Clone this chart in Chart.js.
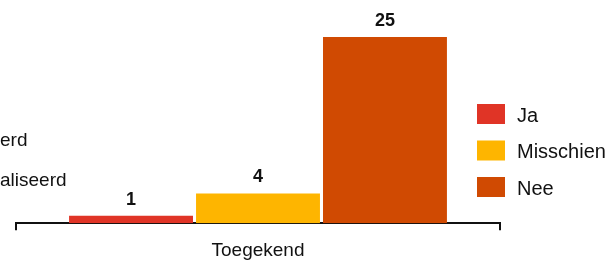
<!DOCTYPE html>
<html lang="nl">
<head>
<meta charset="UTF-8"/>
<title>Toegekend</title>
<script src="https://cdn.jsdelivr.net/npm/chart.js@4.4.0/dist/chart.umd.min.js"></script>
<style>
  body { margin:0; background:#fff; font-family:"Liberation Sans", Arial, sans-serif; }
  #wrap { position:relative; width:613px; height:260px; overflow:hidden; }
  .cut { position:absolute; left:0; font-size:19px; color:#111; white-space:nowrap; }
</style>
</head>
<body>
<div id="wrap">
  <canvas id="Chart" width="613" height="272"></canvas>
  <div class="cut" style="top:129px;">erd</div>
  <div class="cut" style="top:169px;">aliseerd</div>
</div>
<script>
var categories = ['Toegekend'];
var seriesNames = ['Ja', 'Misschien', 'Nee'];
var seriesValues = [[1], [4], [25]];
var seriesColors = ['#e03426', '#feb500', '#d04a02'];

var datasets = [];
for (var i = 0; i < seriesNames.length; i++) {
  datasets.push({
    label: seriesNames[i],
    data: seriesValues[i],
    backgroundColor: seriesColors[i],
    borderWidth: 0
  });
}

// value above each bar
var valueLabels = {
  id: 'valueLabels',
  afterDatasetsDraw: function(chart) {
    var ctx = chart.ctx;
    ctx.save();
    ctx.font = 'bold 18px "Liberation Sans", Arial, sans-serif';
    ctx.fillStyle = '#111';
    ctx.textAlign = 'center';
    ctx.textBaseline = 'alphabetic';
    chart.data.datasets.forEach(function(ds, i) {
      chart.getDatasetMeta(i).data.forEach(function(bar, j) {
        ctx.fillText(ds.data[j], bar.x, bar.y - 11);
      });
    });
    ctx.restore();
  }
};

// legend drawn to the right, overlapping the axis span like the original
var sideLegend = {
  id: 'sideLegend',
  afterDraw: function(chart) {
    var ctx = chart.ctx;
    ctx.save();
    ctx.font = '20px "Liberation Sans", Arial, sans-serif';
    ctx.textBaseline = 'middle';
    chart.data.datasets.forEach(function(ds, i) {
      var y = 104 + i * 36.5;
      ctx.fillStyle = ds.backgroundColor;
      ctx.fillRect(477, y, 28, 20);
      ctx.fillStyle = '#111';
      ctx.fillText(ds.label, 517, y + 12);
    });
    ctx.restore();
  }
};

var ctx = document.getElementById('Chart').getContext('2d');
var chart = new Chart(ctx, {
  type: 'bar',
  data: { labels: categories, datasets: datasets },
  options: {
    responsive: false,
    animation: false,
    layout: { padding: { left: 16, right: 113, top: 37, bottom: 1 } },
    categoryPercentage: 0.787,
    barPercentage: 0.976,
    plugins: { legend: { display: false }, tooltip: { enabled: false } },
    scales: {
      x: {
        grid: { display: true, drawOnChartArea: false, drawTicks: true, tickLength: 7, color: '#111', lineWidth: 2 },
        border: { display: true, color: '#111', width: 2 },
        ticks: { color: '#111', padding: 9, font: { size: 19, family: '"Liberation Sans", Arial, sans-serif' } }
      },
      y: { display: false, min: 0, max: 25 }
    }
  },
  plugins: [valueLabels, sideLegend]
});
</script>
</body>
</html>
